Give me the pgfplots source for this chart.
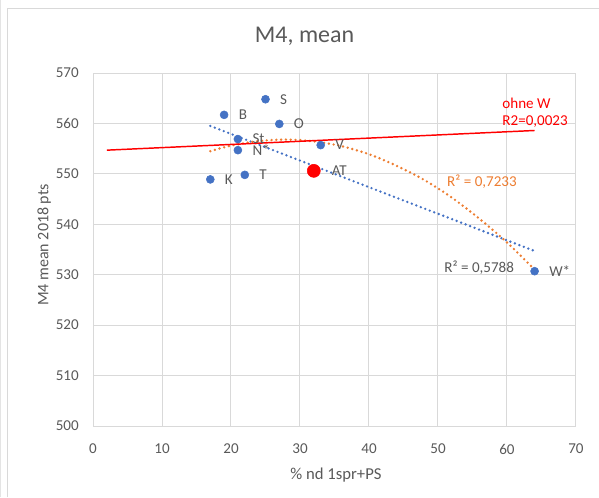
\documentclass[border=0pt]{standalone}
\usepackage{pgfplots}
\pgfplotsset{compat=1.18}
\usepackage{fontspec}
\setmainfont{Carlito}
\definecolor{txt}{HTML}{595959}
\definecolor{gridc}{HTML}{D9D9D9}
\definecolor{xblue}{HTML}{4472C4}
\definecolor{xorange}{HTML}{ED7D31}
\definecolor{xred}{HTML}{FF0000}
\begin{document}
\begin{tikzpicture}
\path[use as bounding box] (0,0) rectangle (449.25pt,372.75pt);
\draw[gridc, line width=0.75pt] (5.25pt,0) -- (5.25pt,366pt) -- (449.25pt,366pt);
\draw[gridc!70, line width=0.75pt] (0.6pt,0) -- (0.6pt,372.75pt);
\begin{axis}[
  at={(69.75pt,53.25pt)}, anchor=south west, scale only axis,
  width=362.25pt, height=264.75pt,
  xmin=0, xmax=70, ymin=500, ymax=570,
  xtick={0,10,...,70}, ytick={500,510,...,570},
  grid=major, major grid style={gridc, line width=0.75pt},
  axis line style={gridc, line width=0.75pt},
  tick style={draw=none},
  ticklabel style={font=\fontsize{11.3}{13}\selectfont, text=txt},
  /pgf/number format/assume math mode=true,
  xticklabel style={anchor=center, yshift=-17.25pt},
  yticklabel style={anchor=east, inner sep=0pt, xshift=-10.5pt},
  clip=false,
]
\addplot[only marks, mark=*, mark size=3pt, color=xblue, mark options={fill=xblue, draw=xblue},
  nodes near coords, point meta=explicit symbolic,
  nodes near coords style={anchor=west, inner sep=0pt, xshift=10.8pt, font=\fontsize{11.3}{13}\selectfont, text=txt}]
  table[meta=lab] {
x y lab
19 561.7 B
25 564.8 S
27 559.9 O
21 556.9 St
21 554.7 N*
33 555.7 V
17 548.9 K
22 549.8 T
64 530.7 W*
};
\addplot[only marks, mark=*, mark size=4.9pt, color=xred, mark options={fill=xred, draw=xred},
  nodes near coords, point meta=explicit symbolic,
  nodes near coords style={anchor=west, inner sep=0pt, xshift=13.3pt, font=\fontsize{11.3}{13}\selectfont, text=txt}]
  table[meta=lab] {
x y lab
32 550.6 AT
};
% linear trend
\addplot[xblue, line width=2pt, line cap=round, dash pattern=on 0pt off 3.6pt] coordinates {(17,559.5) (64,534.7)};
% polynomial trend
\addplot[xorange, line width=2pt, line cap=round, dash pattern=on 0pt off 3.6pt, smooth] coordinates {
(17,554.5) (20,555.6) (24,556.5) (28,556.8) (32,556.45) (36,555.5) (40,553.9) (44,551.6) (48,548.8) (52,545.3) (56,541.1) (60,536.4) (64,531.0)};
% trend without W
\addplot[xred, line width=1.1pt] coordinates {(2,554.7) (64,558.6)};
\node[anchor=west, inner sep=0pt, font=\fontsize{11.3}{13}\selectfont, text=txt] at (axis cs:50.9,531.5) {R² = 0,5788};
\node[anchor=west, inner sep=0pt, font=\fontsize{11.3}{13}\selectfont, text=xorange] at (axis cs:51.3,548.4) {R² = 0,7233};
\node[anchor=west, inner sep=0pt, font=\fontsize{11.3}{13}\selectfont, text=xred] at (axis cs:59.3,564.05) {ohne W};
\node[anchor=west, inner sep=0pt, font=\fontsize{11.3}{13}\selectfont, text=xred] at (axis cs:59.3,560.3) {R2=0,0023};
\end{axis}
\node[anchor=base, inner sep=0pt, font=\fontsize{18}{22}\selectfont, text=txt] at (228.45pt,340.7pt) {M4, mean};
\node[anchor=base, inner sep=0pt, font=\fontsize{12.5}{15}\selectfont, text=txt] at (252pt,13.3pt) {\% nd 1spr+PS};
\node[rotate=90, anchor=base, inner sep=0pt, font=\fontsize{12}{14}\selectfont, text=txt] at (36.2pt,189pt) {M4 mean 2018 pts};
\end{tikzpicture}
\end{document}
